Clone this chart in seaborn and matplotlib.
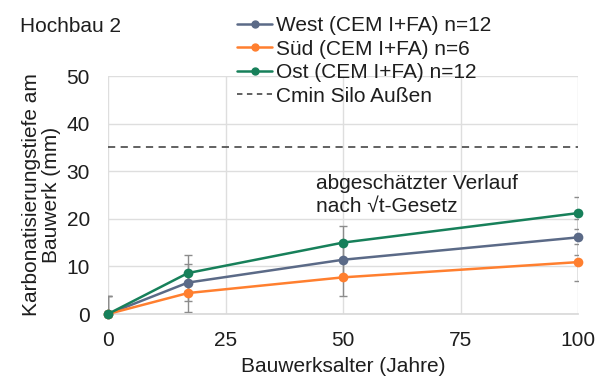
import matplotlib
matplotlib.use("Agg")
import matplotlib.pyplot as plt
import seaborn as sns
import pandas as pd
from matplotlib.lines import Line2D

years = [0, 17, 50, 100]
west = [0.0, 6.6, 11.4, 16.1]
sued = [0.0, 4.4, 7.7, 10.9]
ost = [0.0, 8.6, 15.0, 21.2]
err_west = [3.8, 3.8, 3.8, 3.8]
err_sued = [3.8, 4.0, 3.9, 3.9]
err_ost = [3.8, 3.7, 3.5, 3.3]
labels = ["West (CEM I+FA) n=12", "Süd (CEM I+FA) n=6", "Ost (CEM I+FA) n=12"]
colors = ["#5b6a87", "#ff7f2f", "#17805a"]
cmin = 35
cmin_label = "Cmin Silo Außen"

sns.set_theme(style="whitegrid")
plt.rcParams["font.family"] = ["Liberation Sans", "DejaVu Sans"]

FS = 15
TXT = "#1e1e1e"

fig = plt.figure(figsize=(6.03, 3.78), dpi=100)
ax = fig.add_axes([108/603, 1-314/378, 470/603, 238/378])

df = pd.DataFrame({
    "Jahre": years * 3,
    "Tiefe": west + sued + ost,
    "err": err_west + err_sued + err_ost,
    "Serie": [labels[0]]*4 + [labels[1]]*4 + [labels[2]]*4,
})

for lab in labels:
    sub = df[df["Serie"] == lab]
    ax.errorbar(sub["Jahre"], sub["Tiefe"], yerr=sub["err"], fmt="none",
                ecolor="#8c8c8c", elinewidth=1.0, capsize=3, capthick=1.0,
                zorder=2)

sns.lineplot(data=df, x="Jahre", y="Tiefe", hue="Serie", palette=colors,
             marker="o", markersize=7, markeredgewidth=0, linewidth=1.8,
             ax=ax, legend=False, zorder=3, clip_on=False)

ax.plot([years[0], years[-1]], [cmin, cmin], linestyle=(0, (4, 3)),
        color="#555555", linewidth=1.3, zorder=2)

ax.set_xlim(0, 100)
ax.set_ylim(0, 50)
ax.set_xticks([0, 25, 50, 75, 100])
ax.set_yticks([0, 10, 20, 30, 40, 50])
ax.tick_params(axis="x", labelsize=FS, colors=TXT, pad=12, length=0)
ax.tick_params(axis="y", labelsize=FS, colors=TXT, pad=13, length=0)
for s in ax.spines.values():
    s.set_visible(False)
ax.spines["bottom"].set_visible(True)
ax.spines["bottom"].set_color("#d9d9d9")
ax.grid(True, color="#dedede", linewidth=1.0)
ax.set_axisbelow(True)

ax.set_xlabel("Bauwerksalter (Jahre)", fontsize=FS, color=TXT, labelpad=5)
ax.set_ylabel("Karbonatisierungstiefe am\nBauwerk (mm)", fontsize=FS,
              color=TXT, labelpad=4, linespacing=1.05)

ax.text(44.3, 29.4, "abgeschätzter Verlauf\nnach √t-Gesetz", fontsize=FS,
        color=TXT, va="top", ha="left", linespacing=1.25)

fig.text(20/603, 1-27/378, "Hochbau 2", fontsize=FS, color=TXT,
         va="center", ha="left")

handles = [Line2D([0], [0], color=c, marker="o", markersize=5, linewidth=1.8)
           for c in colors]
handles.append(Line2D([0], [0], color="#555555", linestyle=(0, (3, 2.5)), linewidth=1.3))
leg = fig.legend(handles, labels + [cmin_label], loc="upper left",
                 bbox_to_anchor=(237/603, 1-16/378), frameon=False,
                 fontsize=FS, handlelength=1.7, handletextpad=0.15,
                 labelspacing=0.22, borderaxespad=0, borderpad=0)
for t in leg.get_texts():
    t.set_color(TXT)

fig.savefig("out.png", dpi=100, facecolor="white")
